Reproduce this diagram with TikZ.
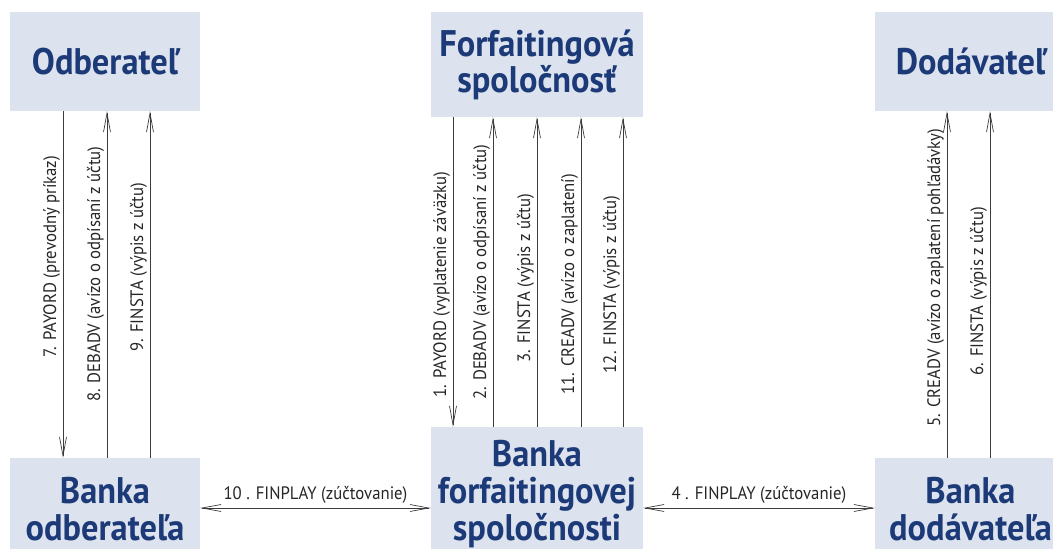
\documentclass[tikz,border=0pt]{standalone}
\usepackage{fontspec}
\setmainfont{PT Sans}
\newfontfamily\titlefont[FakeStretch=0.93]{PT Sans}
\newfontfamily\lblfont[FakeStretch=0.93]{PT Sans}
\usetikzlibrary{arrows.meta}
\definecolor{boxfill}{HTML}{DDE3EE}
\definecolor{titleblue}{HTML}{1C3A78}
\definecolor{linegray}{HTML}{3C3C3C}

\begin{document}
\begin{tikzpicture}[
    x=1pt, y=-1pt,
    >={Straight Barb[length=19pt,width=7pt]},
    party/.style={rectangle, fill=boxfill, inner sep=0pt, align=center, text=titleblue, font=\titlefont\bfseries\fontsize{37}{34}\selectfont},
    bank/.style={party, font=\titlefont\bfseries\fontsize{37}{37}\selectfont},
    msg/.style={->, line width=0.7pt, draw=linegray},
    dmsg/.style={<->, line width=0.7pt, draw=linegray},
    lbl/.style={rotate=90, anchor=south, inner sep=2.5pt, text=black!85, font=\lblfont\fontsize{18}{20}\selectfont},
    hlbl/.style={above, inner sep=4pt, text=black!85, font=\lblfont\fontsize{18}{20}\selectfont}
]
\clip (0,0) rectangle (1053,549);

% Ucastnici
\node[party, minimum width=190pt, minimum height=99pt] (odb) at (105,61.5) {Odberateľ};
\node[party, minimum width=212pt, minimum height=105pt] (forf) at (537,64.5) {Forfaitingová\\spoločnosť};
\node[party, minimum width=191pt, minimum height=99pt] (dod) at (970.5,61.5) {Dodávateľ};
\node[bank, minimum width=190pt, minimum height=102pt] (bodb) at (105,509) {Banka\\odberateľa};
\node[bank, minimum width=212pt, minimum height=134pt] (bforf) at (537,494) {Banka\\forfaitingovej\\spoločnosti};
\node[bank, minimum width=191pt, minimum height=102pt] (bdod) at (970.5,509) {Banka\\dodávateľa};

% Odberatel - banka odberatela
\draw[msg] (odb.south -| 63,0) -- node[lbl, pos=0.42] {7. PAYORD (prevodný príkaz)} (bodb.north -| 63,0);
\draw[msg] (bodb.north -| 107,0) -- node[lbl, pos=0.53] {8. DEBADV (avízo o odpísaní z účtu)} (odb.south -| 107,0);
\draw[msg] (bodb.north -| 150,0) -- node[lbl, pos=0.55] {9. FINSTA (výpis z účtu)} (odb.south -| 150,0);

% Forfaitingova spolocnost - jej banka
\draw[msg] (forf.south -| 453,0) -- node[lbl, pos=0.54] {1. PAYORD (vyplatenie záväzku)} (bforf.north -| 453,0);
\draw[msg] (bforf.north -| 493,0) -- node[lbl, pos=0.50] {2. DEBADV (avízo o odpísaní z účtu)} (forf.south -| 493,0);
\draw[msg] (bforf.north -| 537,0) -- node[lbl, pos=0.48] {3. FINSTA (výpis z účtu)} (forf.south -| 537,0);
\draw[msg] (bforf.north -| 581,0) -- node[lbl, pos=0.46] {11. CREADV (avízo o zaplatení)} (forf.south -| 581,0);
\draw[msg] (bforf.north -| 623,0) -- node[lbl, pos=0.46] {12. FINSTA (výpis z účtu)} (forf.south -| 623,0);

% Dodavatel - banka dodavatela
\draw[msg] (bdod.north -| 947,0) -- node[lbl, pos=0.52] {5. CREADV (avízo o zaplatení pohľadávky)} (dod.south -| 947,0);
\draw[msg] (bdod.north -| 990,0) -- node[lbl, pos=0.48] {6. FINSTA (výpis z účtu)} (dod.south -| 990,0);

% Zuctovanie medzi bankami
\draw[dmsg] (bodb.east |- 0,508) -- node[hlbl] {10 . FINPLAY (zúčtovanie)} (bforf.west |- 0,508);
\draw[dmsg] (bforf.east |- 0,508) -- node[hlbl] {4 . FINPLAY (zúčtovanie)} (bdod.west |- 0,508);

\end{tikzpicture}
\end{document}
